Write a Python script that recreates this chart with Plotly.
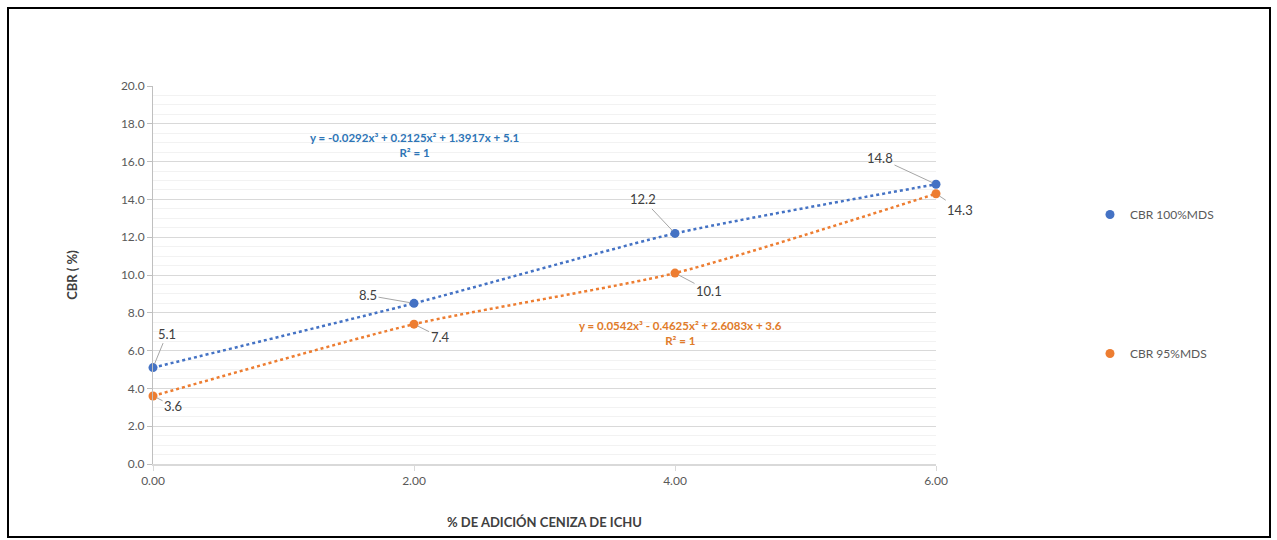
import plotly.graph_objects as go

# CBR test results vs. ichu ash addition
adicion = [0, 2, 4, 6]
tick_labels = ["0.00", "2.00", "4.00", "6.00"]
cbr_100 = [5.1, 8.5, 12.2, 14.8]
cbr_95 = [3.6, 7.4, 10.1, 14.3]

BLUE = "#4472C4"
ORANGE = "#ED7D31"
BLUE_TXT = "#2E75B6"
ORANGE_TXT = "#E07B2A"
FONT = "Lato"

W, H = 1277, 540
L, R, T, B = 153, 341, 86, 76
PW, PH = W - L - R, H - T - B

fig = go.Figure()

# dotted trend curves through each series
for y, c in [(cbr_100, BLUE), (cbr_95, ORANGE)]:
    fig.add_trace(go.Scatter(
        x=adicion, y=y, mode="lines", line=dict(color=c, width=2.5, dash="dot", shape="spline", smoothing=0.6),
        showlegend=False, hoverinfo="skip", cliponaxis=False))

fig.add_trace(go.Scatter(x=adicion, y=cbr_100, mode="markers", name="CBR 100%MDS",
                         marker=dict(color=BLUE, size=9), legendgroup="a", cliponaxis=False))
fig.add_trace(go.Scatter(x=adicion, y=cbr_95, mode="markers", name="CBR 95%MDS",
                         marker=dict(color=ORANGE, size=9), legendgroup="b", cliponaxis=False))

# data labels with leader lines (pixel offsets from each point)
offs_100 = [(14, -34), (-46, -8), (-32, -34), (-56, -26)]
offs_95 = [(20, 10), (26, 13), (34, 18), (24, 16)]
for x, y, (ax, ay) in zip(adicion, cbr_100, offs_100):
    fig.add_annotation(x=x, y=y, text=f"{y:.1f}", showarrow=True, arrowhead=0, arrowwidth=1,
                       arrowcolor="#A6A6A6", ax=ax, ay=ay, standoff=4,
                       font=dict(family=FONT, size=13, color="#404040"))
for x, y, (ax, ay) in zip(adicion, cbr_95, offs_95):
    fig.add_annotation(x=x, y=y, text=f"{y:.1f}", showarrow=True, arrowhead=0, arrowwidth=1,
                       arrowcolor="#A6A6A6", ax=ax, ay=ay, standoff=4,
                       font=dict(family=FONT, size=13, color="#404040"))

# trend equations
fig.add_annotation(x=2.0, y=16.9, xref="x", yref="y", showarrow=False,
                   text="<b>y = -0.0292x³ + 0.2125x² + 1.3917x + 5.1<br>R² = 1</b>",
                   font=dict(family=FONT, size=11.5, color=BLUE_TXT))
fig.add_annotation(x=4.04, y=6.95, xref="x", yref="y", showarrow=False,
                   text="<b>y = 0.0542x³ - 0.4625x² + 2.6083x + 3.6<br>R² = 1</b>",
                   font=dict(family=FONT, size=11.5, color=ORANGE_TXT))

# outer chart border
def px(xp):
    return (xp - L) / PW

def py(yp):
    return (H - B - yp) / PH

fig.add_shape(type="rect", xref="paper", yref="paper",
              x0=px(8), x1=px(1270), y0=py(537), y1=py(8),
              line=dict(color="black", width=2), layer="below")

fig.update_layout(
    width=W, height=H, margin=dict(l=L, r=R, t=T, b=B),
    paper_bgcolor="white", plot_bgcolor="white",
    font=dict(family=FONT, size=12, color="#595959"),
    legend=dict(x=px(1090), y=py(200), xanchor="left", yanchor="top",
                tracegroupgap=120, font=dict(family=FONT, size=12, color="#595959")),
    xaxis=dict(range=[0, 6], tickvals=adicion, ticktext=tick_labels, showgrid=False,
               zeroline=False, showline=True, linecolor="#D9D9D9", linewidth=2,
               ticks="outside", ticklen=5, tickcolor="#D9D9D9",
               tickfont=dict(family=FONT, size=12, color="#595959"),
               title=dict(text="<b>% DE ADICIÓN CENIZA DE ICHU</b>", standoff=30,
                          font=dict(family=FONT, size=13, color="#404040"))),
    yaxis=dict(range=[0, 20], dtick=2, tickformat=".1f", showgrid=True, gridcolor="#D9D9D9",
               minor=dict(dtick=0.5, showgrid=True, gridcolor="#F2F2F2"),
               zeroline=False, showline=True, linecolor="#BFBFBF", linewidth=1,
               ticks="outside", ticklen=5, tickcolor="#BFBFBF",
               tickfont=dict(family=FONT, size=12, color="#595959"),
               title=dict(text="<b>CBR ( %)</b>", standoff=40,
                          font=dict(family=FONT, size=13, color="#404040"))),
)

fig.write_html("out.html")
